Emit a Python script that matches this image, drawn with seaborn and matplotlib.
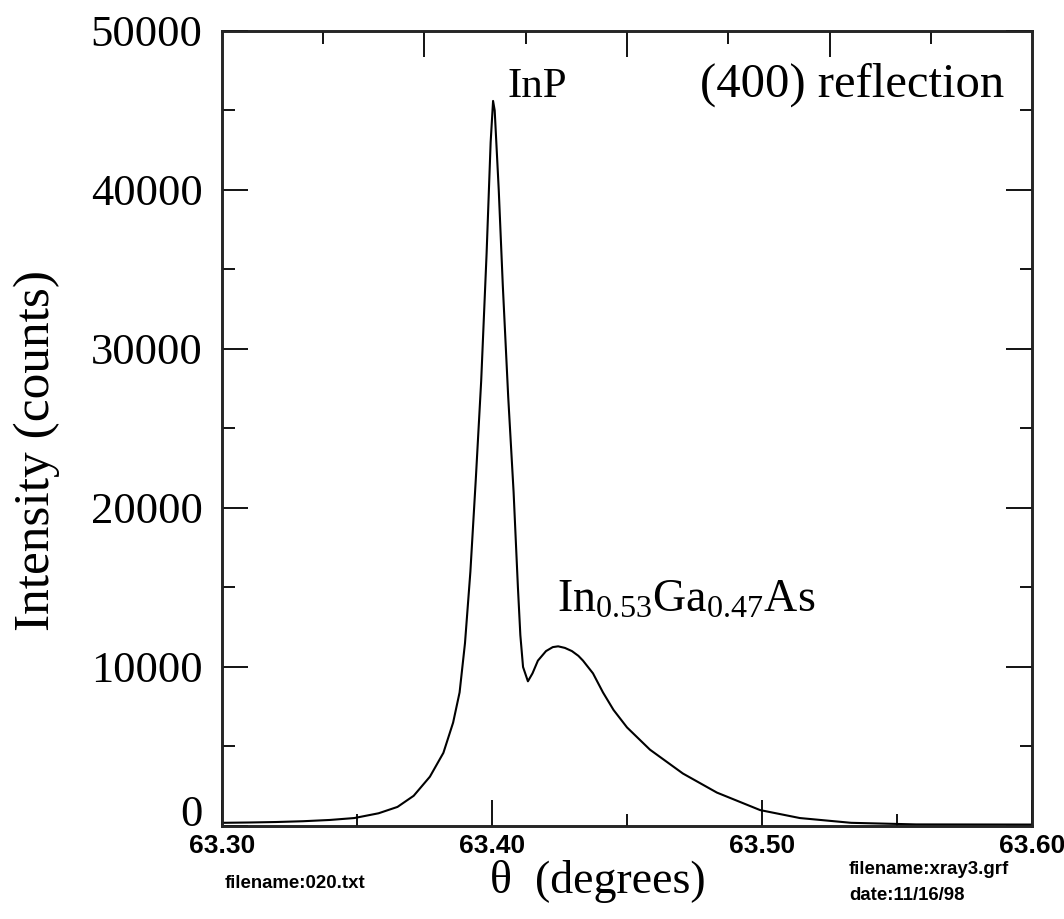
import numpy as np
import pandas as pd
import matplotlib
matplotlib.use("Agg")
import matplotlib.pyplot as plt
import seaborn as sns
from matplotlib.ticker import MultipleLocator, FixedLocator

# ---- data ----
theta = [63.300, 63.310, 63.320, 63.330, 63.340, 63.349, 63.358, 63.365, 63.371,
         63.377, 63.382, 63.3856, 63.388, 63.390, 63.392, 63.394, 63.396, 63.398,
         63.3995, 63.4004, 63.401, 63.4025, 63.404, 63.406, 63.408, 63.4096,
         63.4105, 63.4115, 63.4133, 63.415, 63.417, 63.420, 63.4225, 63.4245,
         63.427, 63.4296, 63.432, 63.4337, 63.4374, 63.4411, 63.445, 63.450,
         63.4585, 63.4707, 63.4833, 63.4993, 63.514, 63.533, 63.557, 63.600]
counts = [200, 220, 250, 300, 380, 500, 800, 1200, 1900,
          3100, 4600, 6500, 8400, 11500, 16000, 21800, 28000, 36000,
          43000, 45600, 45000, 40000, 34000, 27000, 21000, 15000,
          12000, 10000, 9100, 9600, 10400, 11000, 11250, 11300,
          11200, 11000, 10700, 10400, 9600, 8400, 7300, 6200,
          4800, 3300, 2100, 1000, 500, 200, 100, 90]

x_ticks = [63.30, 63.40, 63.50, 63.60]
x_tick_labels = ["63.30", "63.40", "63.50", "63.60"]
y_ticks = [0, 10000, 20000, 30000, 40000, 50000]
top_major = [63.375, 63.45, 63.525]
top_minor = [63.3375, 63.4125, 63.4875, 63.5625]

df = pd.DataFrame({"theta": theta, "counts": counts})

sns.set_theme(style="ticks")
plt.rcParams["font.family"] = ["Liberation Serif", "DejaVu Serif"]
plt.rcParams["mathtext.fontset"] = "custom"
plt.rcParams["mathtext.rm"] = "Liberation Serif"
plt.rcParams["mathtext.it"] = "Liberation Serif:italic"
plt.rcParams["mathtext.bf"] = "Liberation Serif:bold"
plt.rcParams["text.color"] = "black"
plt.rcParams["axes.labelcolor"] = "black"
plt.rcParams["xtick.color"] = "black"
plt.rcParams["ytick.color"] = "black"

fig = plt.figure(figsize=(10.64, 9.19), dpi=100)
ax = fig.add_axes([0.2086, 0.1012, 0.7614, 0.8651])

sns.lineplot(data=df, x="theta", y="counts", color="black", lw=1.5, ax=ax)

ax.set_xlim(63.30, 63.60)
ax.set_ylim(0, 50000)

for s in ax.spines.values():
    s.set_visible(True)
    s.set_linewidth(1.8)
    s.set_color("black")

ax.set_xticks(x_ticks)
ax.set_xticklabels(x_tick_labels)
ax.xaxis.set_minor_locator(MultipleLocator(0.05))
ax.set_yticks(y_ticks)
ax.set_yticklabels([str(v) for v in y_ticks])
ax.yaxis.set_minor_locator(MultipleLocator(5000))

ax.tick_params(which="major", direction="in", length=19, width=1.3, colors="black",
               left=True, right=True, bottom=True, top=False)
ax.tick_params(which="minor", direction="in", length=9, width=1.3, colors="black",
               left=True, right=True, bottom=True, top=False)
ax.tick_params(axis="y", which="major", labelsize=32, pad=14)
ax.tick_params(axis="x", which="major", labelsize=19, pad=6)
for lab in ax.get_xticklabels():
    lab.set_family(["Liberation Sans Narrow", "Liberation Sans"])
    lab.set_fontweight("bold")
ax.get_yticklabels()[0].set_verticalalignment("baseline")

# top axis ticks (own spacing)
axt = ax.twiny()
axt.set_xlim(63.30, 63.60)
axt.xaxis.set_major_locator(FixedLocator(top_major))
axt.xaxis.set_minor_locator(FixedLocator(top_minor))
axt.tick_params(which="major", direction="in", length=19, width=1.3, top=True,
                labeltop=False, colors="black")
axt.tick_params(which="minor", direction="in", length=9, width=1.3, top=True,
                labeltop=False, colors="black")
for s in axt.spines.values():
    s.set_linewidth(1.8)

ax.set_xlabel("")
ax.set_ylabel("Intensity (counts)", fontsize=37)
ax.yaxis.label.set_verticalalignment("center")
ax.yaxis.set_label_coords(-0.229, 0.472)

fig.text(0.5615, 0.041, "\u03b8  (degrees)", fontsize=33, ha="center", va="center")

ax.text(63.4059, 45850, "InP", fontsize=31, ha="left", va="baseline")
ax.text(63.477, 45850, "(400) reflection", fontsize=35, ha="left", va="baseline")
ax.text(63.4240, 13460, r"In$_{0.53}$Ga$_{0.47}$As", fontsize=33, ha="left", va="baseline")

small = dict(fontsize=13.4, fontweight="bold", family=["Liberation Sans Narrow", "Liberation Sans"])
fig.text(0.2115, 0.039, "filename:020.txt", ha="left", va="center", **small)
fig.text(0.798, 0.054, "filename:xray3.grf", ha="left", va="center", **small)
fig.text(0.798, 0.026, "date:11/16/98", ha="left", va="center", **small)

fig.savefig("out.png", dpi=100, facecolor="white")
